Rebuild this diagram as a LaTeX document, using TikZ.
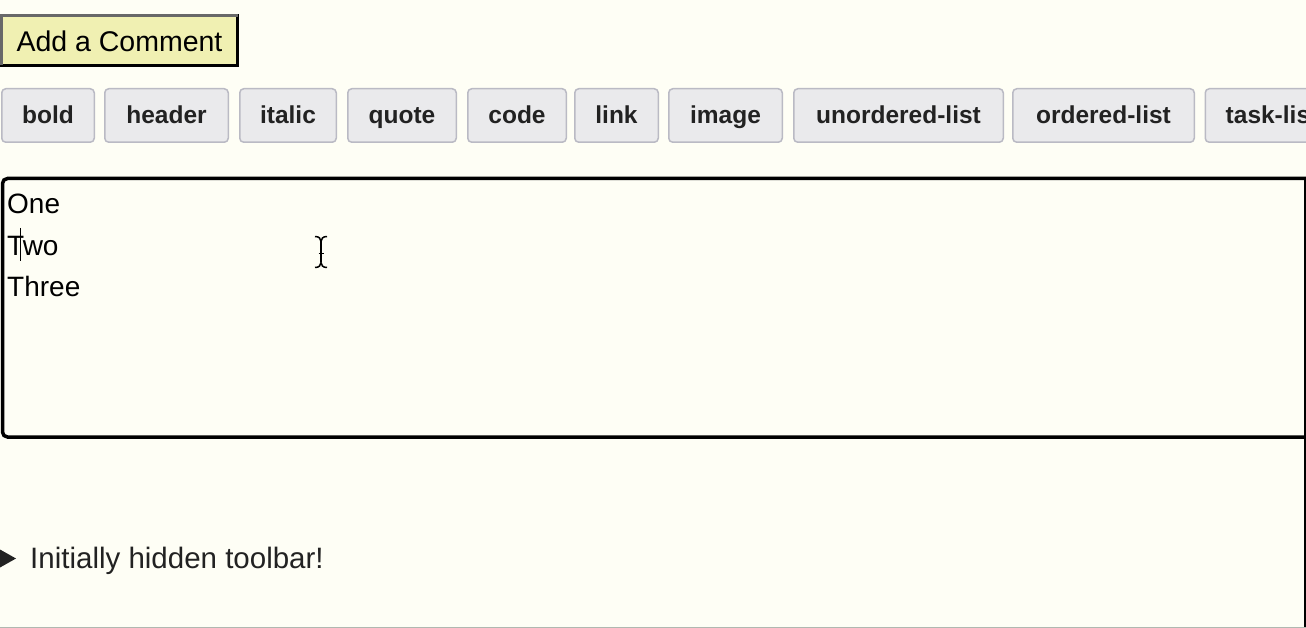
\documentclass[tikz,border=0pt]{standalone}
\usepackage{fontspec}
\setmainfont{Liberation Sans}
\definecolor{pagebg}{RGB}{254,254,245}
\definecolor{addfill}{RGB}{240,240,178}
\definecolor{addgray}{RGB}{104,104,104}
\definecolor{toolfill}{RGB}{234,234,236}
\definecolor{toolline}{RGB}{186,186,196}
\definecolor{labeltext}{RGB}{34,34,34}
\definecolor{bottomline}{RGB}{176,184,176}
\begin{document}
\begin{tikzpicture}[x=1pt,y=-1pt,
  addbtn/.style={draw=black,line width=3pt,fill=addfill,outer sep=0pt,inner sep=0pt,
    minimum width=236pt,minimum height=50pt,text height=25pt,text depth=2pt,
    font=\fontsize{28.5}{34}\selectfont},
  toolbtn/.style={draw=toolline,line width=1.5pt,fill=toolfill,rounded corners=4pt,
    outer sep=0pt,inner sep=0pt,minimum height=53.5pt,text height=20pt,text depth=3pt,
    text=labeltext,font=\fontsize{24.5}{28}\bfseries\selectfont},
  linetext/.style={anchor=base west,inner sep=0pt,font=\fontsize{28}{33}\selectfont}]

\useasboundingbox (0,0) rectangle (1306,628);
\clip (0,0) rectangle (1306,628);
\fill[pagebg] (0,0) rectangle (1306,628);

\node[addbtn] (add) at (119.5,40.5) {Add a Comment};
\draw[addgray,line width=3pt] (add.south west) -- (add.north west) -- (add.north east);

\foreach \c/\w/\t [count=\i] in {48/94/bold,166.5/125/header,288/98/italic,402/110/quote,
    517/100/code,616.5/85/link,725.5/115/image,898.5/211/unordered-list,
    1103.5/183/ordered-list,1272/135/task-list}{
\node[toolbtn,minimum width={\w*1pt-1.5pt}] (tb\i) at (\c,115.5) {\t};
}

\draw[line width=3.5pt,rounded corners=5pt] (1312,178.5) -- (2.5,178.5) -- (2.5,437) -- (1312,437);
\draw[line width=2.5pt] (1305,178) -- (1305,628);

\node[linetext] (one) at (7,214) {One};
\node[linetext] (two) at (7,255.5) {Two};
\node[linetext] (three) at (7,297) {Three};
\draw[line width=1.5pt] (20.7,228) -- (20.7,261);

\draw[line width=1.5pt] (315,236.5) .. controls (319,236.5) and (321,238.5) .. (321,241.5)
  .. controls (321,238.5) and (323,236.5) .. (327,236.5);
\draw[line width=1.5pt] (321,241.5) -- (321,262.5);
\draw[line width=1.5pt] (315,267.5) .. controls (319,267.5) and (321,265.5) .. (321,262.5)
  .. controls (321,265.5) and (323,267.5) .. (327,267.5);
\draw[line width=1.5pt] (318.5,253.3) -- (323.5,253.3);

\fill[labeltext] (0,549.5) -- (16,558.5) -- (0,567.5) -- cycle;
\node[anchor=base west,inner sep=0pt,text=labeltext,font=\fontsize{29.5}{34}\selectfont]
  (summary) at (30,568) {Initially hidden toolbar!};

\draw[bottomline,line width=1.5pt] (0,627.25) -- (1306,627.25);
\end{tikzpicture}
\end{document}
